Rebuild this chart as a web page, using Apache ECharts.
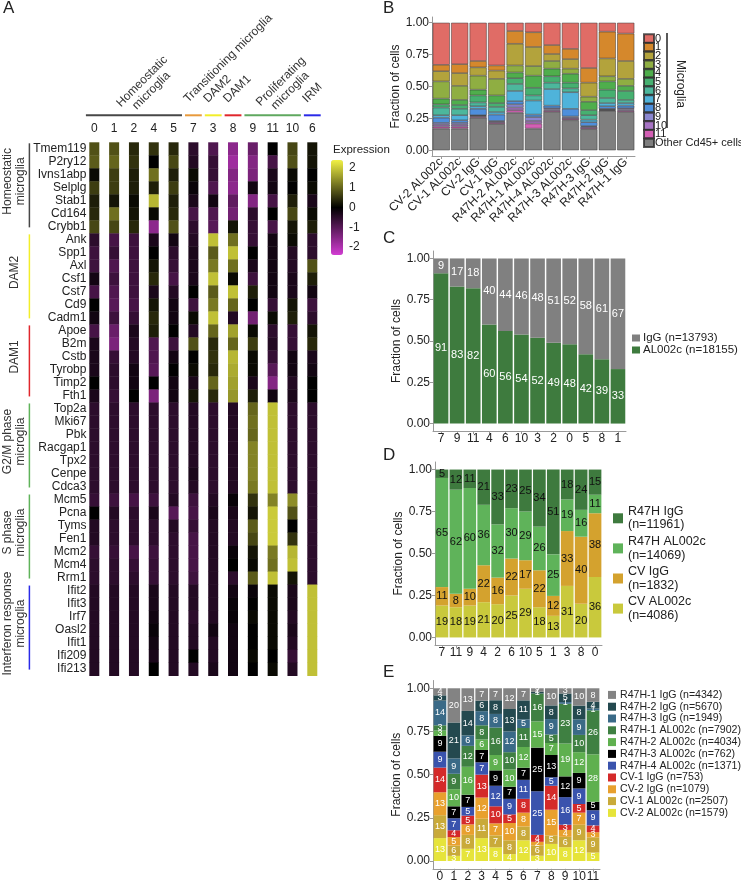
<!DOCTYPE html>
<html>
<head>
<meta charset="utf-8">
<title>Microglia clusters</title>
<script src="https://cdn.jsdelivr.net/npm/echarts@6.0.0/dist/echarts.min.js"></script>
<style>
  html, body { margin: 0; padding: 0; background: #fff; }
  #chart { width: 741px; height: 882px; }
</style>
</head>
<body>
<div id="chart"></div>
<script>
// ---------- A: expression heatmap ----------
var clusterOrder = ['0', '1', '2', '4', '5', '7', '3', '8', '9', '11', '10', '6'];
var genes = ['Tmem119', 'P2ry12', 'Ivns1abp', 'Selplg', 'Stab1', 'Cd164', 'Crybb1',
  'Ank', 'Spp1', 'Axl', 'Csf1', 'Cst7', 'Cd9', 'Cadm1',
  'Apoe', 'B2m', 'Cstb', 'Tyrobp', 'Timp2', 'Fth1',
  'Top2a', 'Mki67', 'Pbk', 'Racgap1', 'Tpx2', 'Cenpe', 'Cdca3',
  'Mcm5', 'Pcna', 'Tyms', 'Fen1', 'Mcm2', 'Mcm4', 'Rrm1',
  'Ifit2', 'Ifit3', 'Irf7', 'Oasl2', 'Ifit1', 'Ifi209', 'Ifi213'];
// one row per gene, columns follow clusterOrder
var expr = [
  [0.8, 0.8, 0.4, 0.5, 0.4, -0.5, -0.9, -1.6, -1.2, 0.0, 0.7, 0.2],
  [0.9, 1.0, 0.5, 0.0, 0.7, -0.4, -0.6, -1.8, -1.5, -0.8, 0.8, 0.2],
  [0.1, 0.6, 0.3, 1.1, 0.3, 0.1, -0.6, -1.5, -1.4, -0.3, 0.1, 0.0],
  [0.6, 0.6, 0.3, 0.3, 0.6, -0.1, -0.9, -1.6, -0.2, -0.2, 0.0, 0.1],
  [0.3, 0.2, 0.1, 1.8, 0.3, -0.3, -0.2, -1.1, -1.5, -0.8, 0.3, -0.3],
  [0.4, 1.1, 0.2, 0.1, 0.4, -0.8, -0.9, -1.3, -0.5, 0.0, 0.7, 0.1],
  [0.7, 0.7, 0.4, -1.6, 0.8, -0.5, -1.0, 0.2, -0.6, -0.8, 0.2, 0.3],
  [-0.5, -0.8, -0.7, -0.3, -0.2, -0.4, 1.9, 1.1, -0.6, -0.2, 0.1, -0.5],
  [-0.7, -0.6, -0.7, 0.0, -0.5, -0.3, 0.9, 1.9, 0.0, -0.2, -0.4, -0.5],
  [-0.7, -0.9, -0.7, 0.2, -0.6, -0.3, 1.2, 1.1, -0.3, -0.2, -0.4, 0.8],
  [-0.2, -0.7, -0.7, 0.4, -0.8, -0.3, 1.9, 0.1, -0.7, -0.2, -0.3, 0.3],
  [-0.8, -0.9, -0.7, -0.3, -0.4, 0.0, 0.9, 1.9, 0.3, -0.2, -0.3, -0.2],
  [0.0, -1.0, -0.8, 0.2, -0.2, -0.7, 1.2, 1.0, 0.0, -0.6, 0.2, -0.7],
  [-0.2, -0.7, -0.6, 0.4, -0.2, 0.1, 1.9, -0.4, -1.3, 0.1, 0.3, -0.5],
  [-0.8, -1.2, -0.3, 0.3, 0.0, -0.4, 1.0, 1.6, 0.1, -0.5, -0.6, 0.2],
  [-0.3, -1.4, -0.4, -0.9, -0.7, 0.8, 0.4, 1.0, 0.6, -0.4, -0.6, 0.4],
  [-0.3, -0.6, -0.4, -0.9, -0.2, 0.0, 0.5, 1.8, 0.1, -0.6, -0.2, -0.3],
  [-0.3, -0.5, -0.2, -1.0, 0.0, 0.1, 0.4, 1.7, 0.1, -1.0, -0.2, -0.2],
  [0.0, -0.5, -0.2, 0.0, -0.2, -0.3, 1.0, 1.6, -0.3, -1.5, -0.4, 0.0],
  [-0.3, -0.6, 0.0, -1.4, -0.2, 0.2, 0.4, 1.5, 0.3, -0.2, -0.3, 0.0],
  [-0.5, -0.5, -0.5, -0.5, -0.5, -0.4, -0.5, -0.4, 1.0, 1.9, -0.5, -0.5],
  [-0.5, -0.5, -0.5, -0.5, -0.5, -0.4, -0.5, -0.4, 1.1, 1.9, -0.5, -0.5],
  [-0.5, -0.5, -0.5, -0.5, -0.5, -0.4, -0.5, -0.4, 1.0, 1.9, -0.5, -0.5],
  [-0.5, -0.5, -0.5, -0.5, -0.5, -0.4, -0.5, -0.4, 1.3, 1.9, -0.5, -0.5],
  [-0.5, -0.5, -0.5, -0.5, -0.5, -0.4, -0.5, -0.4, 1.3, 1.9, -0.5, -0.5],
  [-0.5, -0.5, -0.5, -0.5, -0.5, -0.3, -0.5, -0.4, 1.3, 1.9, -0.5, -0.5],
  [-0.5, -0.5, -0.5, -0.5, -0.5, -0.4, -0.5, -0.4, 1.2, 1.9, -0.5, -0.5],
  [-0.6, -0.7, -0.8, -0.7, -0.4, -0.7, -0.4, -0.1, 0.5, 1.3, 1.4, -0.5],
  [0.0, -0.4, -0.5, -0.3, -1.0, -0.8, -0.3, -0.3, 0.2, 2.0, 0.8, -0.5],
  [-0.4, -0.5, -0.5, -0.5, -0.4, -0.6, -0.4, -0.4, 0.9, 2.0, 0.0, -0.5],
  [-0.4, -0.5, -0.5, -0.5, -0.5, -0.8, -0.4, -0.4, 0.7, 2.0, 0.5, -0.5],
  [-0.6, -0.6, -0.8, -0.7, -0.5, -0.8, -0.4, -0.1, 0.2, 1.2, 1.8, -0.5],
  [-0.5, -0.5, -0.6, -0.6, -0.5, -0.8, -0.4, 0.0, 0.1, 1.1, 1.9, -0.5],
  [-0.5, -0.5, -0.5, -0.6, -0.5, -0.7, -0.4, -0.5, 0.9, 1.9, 0.2, -0.5],
  [-0.4, -0.4, -0.4, -0.3, -0.4, -0.4, -0.4, -0.2, -0.1, 0.1, -0.3, 1.9],
  [-0.4, -0.4, -0.4, -0.3, -0.4, -0.4, -0.4, -0.1, 0.0, 0.1, -0.3, 1.9],
  [-0.4, -0.4, -0.4, -0.2, -0.4, -0.5, -0.4, -0.1, 0.1, 0.1, -0.4, 1.9],
  [-0.4, -0.4, -0.4, -0.1, -0.4, -0.4, -0.2, -0.2, 0.0, 0.1, -0.3, 1.9],
  [-0.4, -0.4, -0.4, -0.2, -0.4, -0.4, -0.4, -0.2, 0.0, 0.1, -0.4, 1.9],
  [-0.4, -0.4, -0.4, -0.3, -0.4, 0.0, -0.4, -0.2, 0.1, 0.0, -0.6, 1.9],
  [-0.4, -0.4, -0.4, 0.0, -0.4, -0.4, -0.3, -0.2, 0.0, 0.1, -0.4, 1.9]
];
var exprTicks = [-2, -1, 0, 1, 2];

var colGroupLabels = ['Homeostatic\nmicroglia', 'Transitioning microglia', 'DAM2', 'DAM1', 'Proliferating\nmicroglia', 'IRM'];
var colGroupSpans = [[0, 4], [5, 5], [6, 6], [7, 7], [8, 10], [11, 11]];
var colGroupColors = ['#474747', '#e89a3c', '#f2ee2a', '#e0262c', '#5fa85f', '#2a2ae8'];

var rowGroupLabels = ['Homeostatic\nmicroglia', 'DAM2', 'DAM1', 'G2/M phase\nmicroglia', 'S phase\nmicroglia', 'Interferon response\nmicroglia'];
var rowGroupSpans = [[0, 6], [7, 13], [14, 19], [20, 26], [27, 33], [34, 40]];
var rowGroupColors = ['#474747', '#f2ee2a', '#e0262c', '#5fb35a', '#5fb35a', '#2a2ae8'];

// ---------- B: cluster share per sample ----------
var bSamples = ['CV-2 AL002c', 'CV-1 AL002c', 'CV-2 IgG', 'CV-1 IgG', 'R47H-2 AL002c', 'R47H-1 AL002c',
  'R47H-4 AL002c', 'R47H-3 AL002c', 'R47H-3 IgG', 'R47H-2 IgG', 'R47H-1 IgG'];
var bClusters = ['0', '1', '2', '3', '4', '5', '6', '7', '8', '9', '10', '11', 'Other Cd45+ cells'];
// percent of cells, one row per entry of bClusters
var bShare = [
  [33, 32.5, 30, 33.5, 6.5, 7.5, 17.5, 20.5, 35.5, 7, 8.5],
  [5, 7, 5, 4, 10, 11.5, 7, 8, 11.5, 21, 21.5],
  [8, 10, 6.5, 6.5, 17, 15, 5.5, 7.5, 11, 14, 14],
  [13.5, 11, 11, 13, 5.5, 7.5, 6, 4, 4, 4, 5.5],
  [4.5, 4, 4.5, 6, 4.5, 9.5, 6, 7, 6.5, 6.5, 4],
  [2.5, 3, 5.5, 3, 4.5, 6, 5, 4.5, 4, 6.5, 7],
  [6, 5, 3, 4, 5.5, 4, 5, 3, 3.5, 4, 2.5],
  [2, 4, 2, 2, 8, 11, 13, 13, 2, 2.5, 2],
  [4, 2, 5, 5, 2.5, 2, 2, 6, 3, 2, 2],
  [1.5, 1.5, 0.5, 0.5, 2.5, 3, 1, 1, 0.5, 0.5, 1],
  [1.5, 1.5, 0.5, 1, 2, 2, 1, 1, 1, 0.5, 1],
  [1.5, 1.5, 1, 1, 2, 4, 1, 1, 1, 0.5, 1],
  [17, 17, 25.5, 20.5, 29.5, 17, 30, 23.5, 16.5, 31, 30]
];
var bColors = ['#e06c66', '#d5882c', '#b3a33c', '#8fae42', '#4fae4c', '#46b070', '#4cb79c',
  '#4fb3da', '#4e8fdc', '#8a86cf', '#a774c4', '#d35fb4', '#7f7f7f'];

// ---------- C: treatment share per cluster ----------
var cClusters = ['7', '9', '11', '4', '6', '10', '3', '2', '0', '5', '8', '1'];
var cGroups = ['IgG', 'AL002c'];
var cCounts = [13793, 18155];
var cIgG = [9, 17, 18, 40, 44, 46, 48, 51, 52, 58, 61, 67];
var cAL002c = [91, 83, 82, 60, 56, 54, 52, 49, 48, 42, 39, 33];

// ---------- D: genotype x treatment per cluster ----------
var dClusters = ['7', '11', '9', '4', '2', '6', '10', '5', '1', '3', '8', '0'];
var dGroups = ['R47H IgG', 'R47H AL002c', 'CV IgG', 'CV AL002c'];
var dCounts = [11961, 14069, 1832, 4086];
var dR47HIgG = [5, 12, 11, 21, 33, 23, 25, 34, 51, 18, 24, 15];
var dR47HAL = [65, 62, 60, 36, 32, 30, 29, 26, 25, 19, 16, 11];
var dCVIgG = [11, 8, 10, 22, 16, 22, 17, 22, 12, 33, 40, 38];
var dCVAL = [19, 18, 19, 21, 20, 25, 29, 18, 13, 31, 20, 36];

// ---------- E: sample share per cluster ----------
var eClusters = ['0', '1', '2', '3', '4', '5', '6', '7', '8', '9', '10', '11'];
var eGroups = ['R47H-1 IgG', 'R47H-2 IgG', 'R47H-3 IgG', 'R47H-1 AL002c', 'R47H-2 AL002c', 'R47H-3 AL002c',
  'R47H-4 AL002c', 'CV-1 IgG', 'CV-2 IgG', 'CV-1 AL002c', 'CV-2 AL002c'];
var eCounts = [4342, 5670, 1949, 7902, 4034, 762, 1371, 753, 1079, 2507, 1579];
var eShare = [
  [4, 20, 13, 7, 7, 12, 7, 2, 10, 3, 10, 8],
  [3, 21, 14, 6, 8, 13, 11, 1, 8, 5, 8, 4],
  [14, 9, 6, 8, 8, 12, 5, 0, 9, 1, 9, 1],
  [3, 9, 12, 8, 16, 10, 11, 16, 5, 23, 10, 26],
  [3, 10, 16, 6, 9, 10, 12, 15, 7, 19, 12, 28],
  [9, 7, 7, 7, 9, 7, 7, 25, 13, 12, 9, 5],
  [9, 7, 5, 7, 12, 9, 11, 25, 5, 16, 9, 9],
  [14, 4, 5, 13, 10, 5, 8, 4, 14, 3, 5, 4],
  [13, 5, 6, 12, 7, 10, 8, 2, 15, 4, 7, 3],
  [13, 6, 8, 11, 7, 8, 8, 6, 5, 6, 9, 9],
  [13, 3, 7, 13, 8, 4, 12, 3, 10, 8, 12, 5]
];
var eColors = ['#838383', '#24494f', '#3a6a87', '#3f8042', '#5fb04f', '#000000', '#3a53ad',
  '#d42a2a', '#e8a02e', '#c9aa3a', '#e6e43a'];

var fracTicks = [0, 0.25, 0.5, 0.75, 1];
var FONT = 'Liberation Sans, Arial, sans-serif';

// ---------- helpers ----------
function fracAxis(gi, gap) {
  return {
    type: 'value', gridIndex: gi, min: -0.045, max: 1.045,
    name: 'Fraction of cells', nameLocation: 'middle', nameGap: gap,
    nameTextStyle: { fontSize: 12, color: '#222' },
    axisLine: { show: true, lineStyle: { color: '#9a9a9a' } },
    axisTick: { show: true, length: 3, lineStyle: { color: '#9a9a9a' }, customValues: fracTicks },
    axisLabel: { fontSize: 12, color: '#222', margin: 3, customValues: fracTicks,
      formatter: function (v) { return v.toFixed(2); } },
    splitLine: { show: false }
  };
}
function catAxis(gi, cats, extra) {
  var ax = {
    type: 'category', gridIndex: gi, data: cats,
    axisLine: { show: true, onZero: false, lineStyle: { color: '#9a9a9a' } },
    axisTick: { show: true, length: 3, alignWithLabel: true, lineStyle: { color: '#9a9a9a' } },
    axisLabel: { fontSize: 12, color: '#222', margin: 2, interval: 0 }
  };
  if (extra) { for (var k in extra.axisLabel) ax.axisLabel[k] = extra.axisLabel[k]; }
  return ax;
}
// stacked series whose columns are scaled to 1
function stackSeries(groupNames, rows, colors, gi, stack, labelColor, labelSize) {
  var n = rows[0].length, sums = [];
  for (var j = 0; j < n; j++) {
    var s = 0;
    for (var r = 0; r < rows.length; r++) s += rows[r][j];
    sums.push(s);
  }
  return rows.map(function (row, r) {
    return {
      name: groupNames[r], type: 'bar', stack: stack, xAxisIndex: gi, yAxisIndex: gi,
      barCategoryGap: '9%', itemStyle: { color: colors[r] },
      label: {
        show: labelColor !== null, position: 'inside', color: labelColor, fontSize: labelSize,
        fontFamily: FONT,
        formatter: function (p) { return p.data.raw ? String(p.data.raw) : ''; }
      },
      data: row.map(function (v, j) { return { value: v / sums[j], raw: v }; })
    };
  });
}

// ---------- heatmap series pieces ----------
var heatData = [];
expr.forEach(function (row, gi) {
  row.forEach(function (v, ci) { heatData.push([ci, gi, v]); });
});

function renderCell(params, api) {
  var c = api.coord([api.value(0), api.value(1)]);
  var size = api.size([1, 1]);
  var w = size[0] * 0.505, h = size[1];
  return {
    type: 'rect',
    shape: { x: c[0] - w / 2, y: c[1] - h / 2, width: w, height: h + 0.4 },
    style: { fill: api.visual('color') }
  };
}

function renderColGroup(params, api) {
  var i = params.dataIndex, span = colGroupSpans[i];
  var a = api.coord([span[0], 0]), b = api.coord([span[1], 0]);
  var band = api.size([1, 1]);
  var lineY = a[1] - band[1] / 2 - 27;
  var mid = (a[0] + b[0]) / 2;
  var multi = colGroupLabels[i].indexOf('\n') >= 0;
  return {
    type: 'group',
    children: [
      { type: 'line', shape: { x1: a[0] - band[0] / 2 + 1.5, y1: lineY, x2: b[0] + band[0] / 2 - 1.5, y2: lineY },
        style: { stroke: colGroupColors[i], lineWidth: 2 } },
      { type: 'text', x: multi ? mid + 22 : mid - 3, y: multi ? lineY - 20 : lineY - 10, rotation: Math.PI / 4,
        style: { text: colGroupLabels[i], fill: '#333', font: '12px ' + FONT,
          align: multi ? 'center' : 'left', verticalAlign: 'bottom',
          textAlign: multi ? 'center' : 'left', textVerticalAlign: 'bottom', lineHeight: 13 } }
    ]
  };
}

function renderRowGroup(params, api) {
  var i = params.dataIndex, span = rowGroupSpans[i];
  var a = api.coord([0, span[0]]), b = api.coord([0, span[1]]);
  var band = api.size([1, 1]);
  var left = a[0] - band[0] / 2;
  var y0 = a[1] - band[1] / 2 + 1, y1 = b[1] + band[1] / 2 - 6;
  var x = left - 55;
  return {
    type: 'group',
    children: [
      { type: 'line', shape: { x1: x, y1: y0, x2: x, y2: y1 },
        style: { stroke: rowGroupColors[i], lineWidth: 1.5 } },
      { type: 'text', x: left - 70, y: (y0 + y1) / 2 - 4, rotation: Math.PI / 2,
        style: { text: rowGroupLabels[i], fill: '#333', font: '12px ' + FONT,
          align: 'center', verticalAlign: 'middle', textAlign: 'center', textVerticalAlign: 'middle', lineHeight: 13 } }
    ]
  };
}

// ---------- B series ----------
var bSeries = [];
for (var k = bClusters.length - 1; k >= 0; k--) {
  bSeries.push({
    name: bClusters[k], type: 'bar', stack: 'b', xAxisIndex: 2, yAxisIndex: 2,
    barCategoryGap: '7%',
    itemStyle: { color: bColors[k], borderColor: 'rgba(45,45,45,0.8)', borderWidth: 0.6 },
    data: bShare[k].map(function (v) { return v / 100; })
  });
}

var cSeries = stackSeries(['AL002c', 'IgG'], [cAL002c, cIgG], ['#3e7b3e', '#808080'], 3, 'c', '#ffffff', 11);
var dSeries = stackSeries(['CV AL002c', 'CV IgG', 'R47H AL002c', 'R47H IgG'],
  [dCVAL, dCVIgG, dR47HAL, dR47HIgG], ['#c9c93c', '#d4a22e', '#5fb35a', '#3e7a3e'], 4, 'd', '#111111', 11);
var eRowsBottomUp = eShare.slice().reverse();
var eNamesBottomUp = eGroups.slice().reverse();
var eColorsBottomUp = eColors.slice().reverse();
var eSeries = stackSeries(eNamesBottomUp, eRowsBottomUp, eColorsBottomUp, 5, 'e', '#ffffff', 9);

var chart = echarts.init(document.getElementById('chart'));

var option = {
  animation: false,
  textStyle: { fontFamily: FONT },
  title: [
    { text: 'A', left: 3, top: 0 },
    { text: 'B', left: 383, top: 0 },
    { text: 'C', left: 383, top: 230 },
    { text: 'D', left: 383, top: 447 },
    { text: 'E', left: 383, top: 664 }
  ].map(function (t) {
    t.padding = 0;
    t.textStyle = { fontSize: 17, fontWeight: 'normal', color: '#222', fontFamily: FONT };
    return t;
  }),
  grid: [
    { left: 84.4, top: 142.3, width: 237.8, height: 533.3 },
    { left: 331, top: 160, width: 12, height: 95 },
    { left: 432, top: 17, width: 203, height: 139 },
    { left: 433, top: 251, width: 193, height: 180 },
    { left: 435, top: 462, width: 167, height: 183 },
    { left: 433, top: 680.5, width: 167, height: 188.3 }
  ].map(function (g) { g.outerBoundsMode = 'none'; g.containLabel = false; return g; }),
  xAxis: [
    { type: 'category', gridIndex: 0, data: clusterOrder, position: 'top',
      axisLine: { show: false }, axisTick: { show: false },
      axisLabel: { fontSize: 12, color: '#222', margin: 8, interval: 0 } },
    { type: 'value', gridIndex: 1, show: false },
    catAxis(2, bSamples, { axisLabel: { rotate: 45, margin: 4, fontSize: 12 } }),
    catAxis(3, cClusters),
    catAxis(4, dClusters),
    catAxis(5, eClusters)
  ],
  yAxis: [
    { type: 'category', gridIndex: 0, data: genes, inverse: true,
      axisLine: { show: false }, axisTick: { show: false },
      axisLabel: { fontSize: 12, color: '#222', margin: -2, interval: 0 } },
    { type: 'value', gridIndex: 1, position: 'right', min: -2.4, max: 2.4,
      axisLine: { show: false }, axisTick: { show: false }, splitLine: { show: false },
      axisLabel: { fontSize: 12, color: '#222', margin: 6, customValues: exprTicks } },
    fracAxis(2, 25),
    fracAxis(3, 27),
    fracAxis(4, 29),
    fracAxis(5, 27)
  ],
  visualMap: {
    type: 'continuous', min: -2.4, max: 2.4, seriesIndex: 0, dimension: 2,
    left: 331, top: 160, itemWidth: 12, itemHeight: 95, padding: 0,
    calculable: false, text: null, showLabel: false,
    inRange: { color: ['#d23cd2', '#000000', '#f2f244'] }
  },
  legend: [
    { data: bClusters, left: 643, top: 33, orient: 'vertical', icon: 'rect',
      itemWidth: 10, itemHeight: 8.3, itemGap: -2.3, padding: 0,
      textStyle: { fontSize: 11, color: '#222', lineHeight: 8.3, padding: [0, 0, 0, -4] } },
    { data: cGroups, left: 632, top: 332, orient: 'vertical', icon: 'rect',
      itemWidth: 8, itemHeight: 7, itemGap: 0, padding: 0,
      formatter: function (n) { return n + ' (n=' + cCounts[cGroups.indexOf(n)] + ')'; },
      textStyle: { fontSize: 11.5, color: '#222', lineHeight: 8.5, padding: [0, 0, 0, -2] } },
    { data: dGroups, left: 613, top: 505, orient: 'vertical', icon: 'rect',
      itemWidth: 10, itemHeight: 10, itemGap: 3.5, padding: 0,
      formatter: function (n) { return n + '\n(n=' + dCounts[dGroups.indexOf(n)] + ')'; },
      textStyle: { fontSize: 12.5, color: '#222', lineHeight: 13.3 } },
    { data: eGroups, left: 608, top: 689, orient: 'vertical', icon: 'rect',
      itemWidth: 8, itemHeight: 8, itemGap: 0, padding: 0,
      formatter: function (n) { return n + ' (n=' + eCounts[eGroups.indexOf(n)] + ')'; },
      textStyle: { fontSize: 10.6, color: '#222', lineHeight: 11.8, padding: [0, 0, 0, -1] } }
  ],
  graphic: [
    { type: 'text', left: 333, top: 144, style: { text: 'Expression', fill: '#222', font: '11.5px ' + FONT } },
    { type: 'line', shape: { x1: 667, y1: 33, x2: 667, y2: 128 }, style: { stroke: '#222', lineWidth: 1.5 } },
    { type: 'text', x: 680, y: 84, rotation: -Math.PI / 2,
      style: { text: 'Microglia', fill: '#222', font: '12px ' + FONT, align: 'center', verticalAlign: 'middle',
        textAlign: 'center', textVerticalAlign: 'middle' } }
  ],
  series: [
    { type: 'custom', name: 'expression', xAxisIndex: 0, yAxisIndex: 0, renderItem: renderCell,
      encode: { x: 0, y: 1 }, data: heatData, silent: true },
    { type: 'custom', name: 'colGroups', xAxisIndex: 0, yAxisIndex: 0, renderItem: renderColGroup,
      data: colGroupSpans.map(function (s) { return [s[0], 0]; }), silent: true, clip: false, z: 5 },
    { type: 'custom', name: 'rowGroups', xAxisIndex: 0, yAxisIndex: 0, renderItem: renderRowGroup,
      data: rowGroupSpans.map(function (s) { return [0, s[0]]; }), silent: true, clip: false, z: 5 }
  ].concat(bSeries, cSeries, dSeries, eSeries)
};

chart.setOption(option);
</script>
</body>
</html>
